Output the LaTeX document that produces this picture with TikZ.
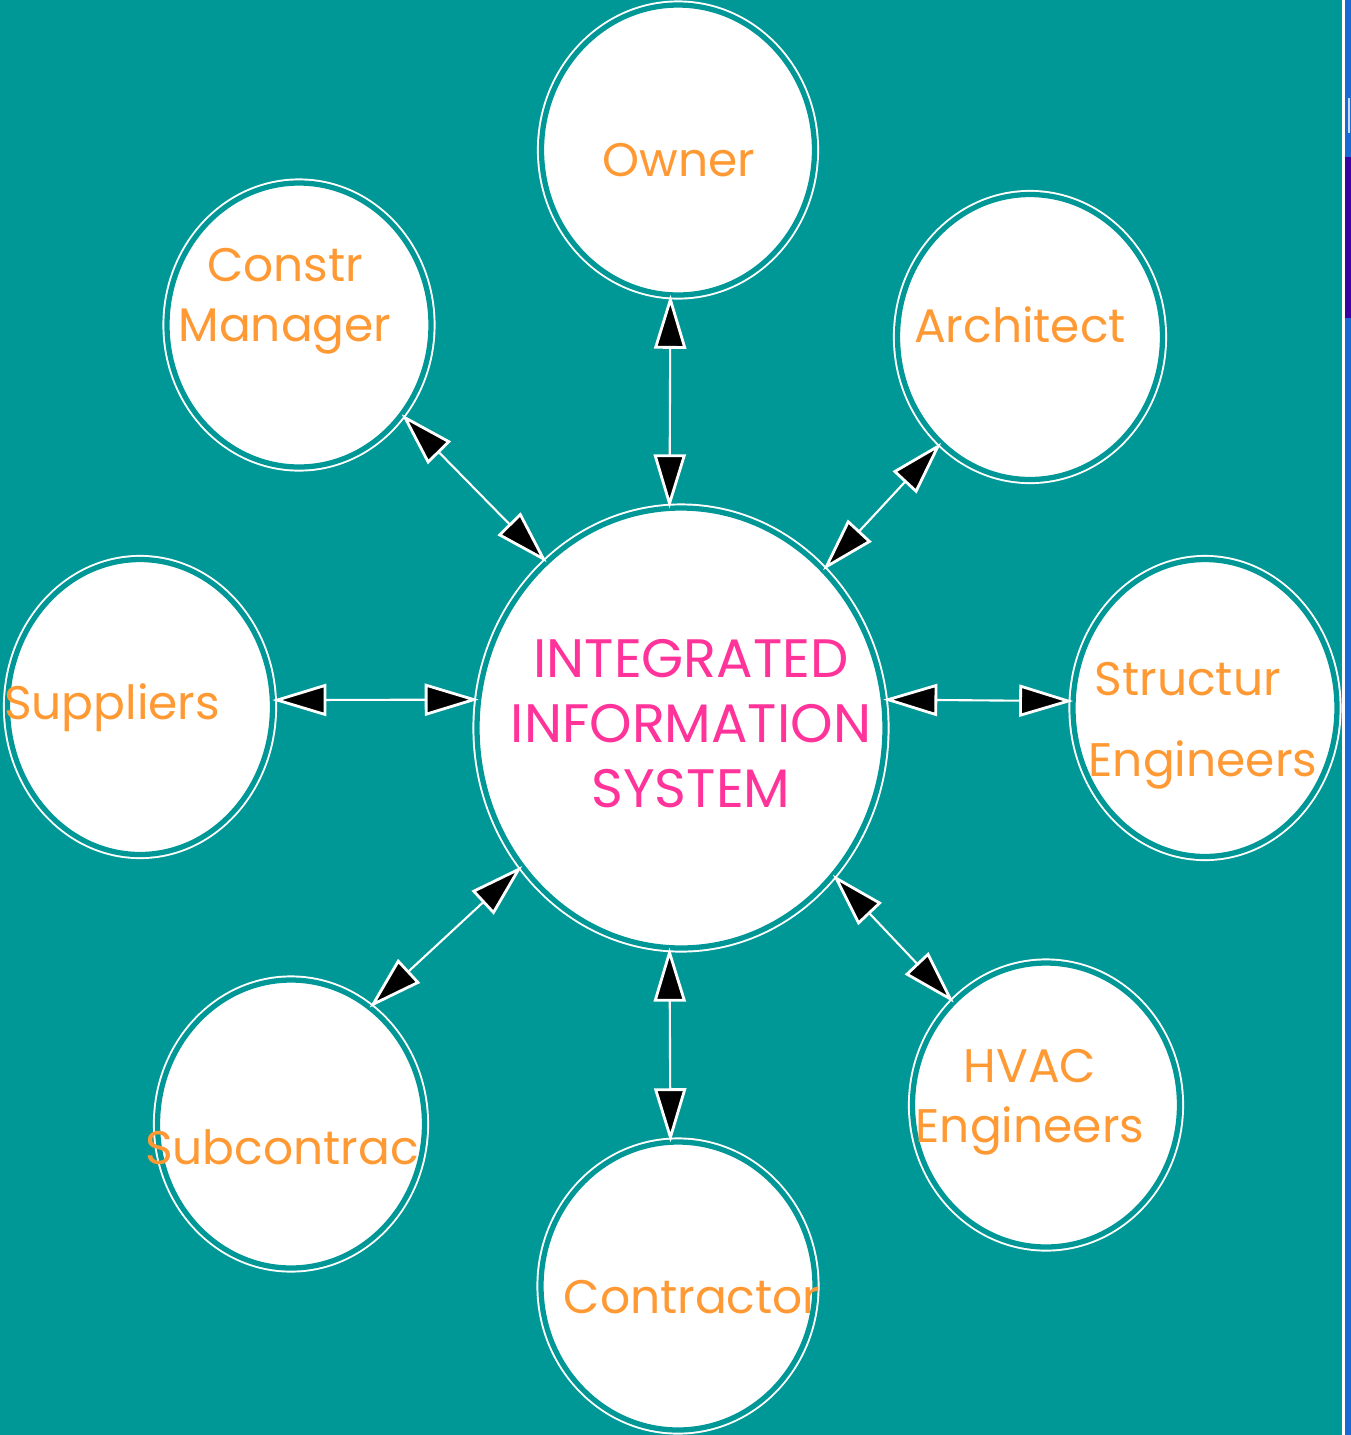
\documentclass[tikz,border=0pt]{standalone}
\usepackage{fontspec}
\setmainfont{Poppins}
\usetikzlibrary{shapes.geometric,arrows.meta}
\definecolor{bgteal}{RGB}{0,151,151}
\definecolor{partyorange}{RGB}{255,153,51}
\definecolor{hubpink}{RGB}{255,51,153}
\definecolor{edgeblue}{RGB}{26,106,214}
\definecolor{edgepurple}{RGB}{60,0,160}

\begin{document}
\begin{tikzpicture}
  [x=0.1mm,y=-0.1mm,
    bubble/.style={ellipse,fill=white,draw=white,double=bgteal,double distance=1.5pt,
      line width=0.55pt,inner sep=0pt,outer sep=0pt},
    partytext/.style={text=partyorange,font=\fontsize{13.4}{17}\selectfont,align=center},
    hubtext/.style={text=hubpink,font=\fontsize{15.4}{18.5}\selectfont,align=center},
    link/.style={draw=white,line width=0.6pt,<->},
    >={Triangle[length=5.4mm,width=3.2mm,fill=black,line width=0.8pt]},
  ]
  \useasboundingbox (0,0) rectangle (1351,1435);
  \fill[bgteal] (0,0) rectangle (1351,1435);
  \fill[white] (1342,0) rectangle (1345,1435);
  \fill[edgeblue] (1345,0) rectangle (1351,1435);
  \fill[edgepurple] (1345,157) rectangle (1351,318);
  \fill[white!75!edgeblue] (1348,98) rectangle (1350,133);

  \node[bubble,minimum width=40.8mm,minimum height=44mm,
    label={[hubtext,xshift=1mm,yshift=0.4mm]center:INTEGRATED\\INFORMATION\\SYSTEM}] (ctr) at (681,728) {};
  \node[bubble,minimum width=27.3mm,minimum height=29mm,
    label={[partytext,xshift=0.1mm,yshift=-1mm]center:Owner}] (owner) at (678,150) {};
  \node[bubble,minimum width=26.4mm,minimum height=28.4mm,
    label={[partytext,xshift=-1.4mm,yshift=2.4mm]center:Constr\\Manager}] (cm) at (299,325) {};
  \node[bubble,minimum width=26.5mm,minimum height=28.5mm,
    label={[partytext,xshift=-1mm,yshift=1.2mm]center:Architect}] (arch) at (1030,337) {};
  \node[bubble,minimum width=26.5mm,minimum height=29.5mm,
    label={[partytext,xshift=-2.8mm,yshift=-0.1mm]center:Suppliers}] (sup) at (140,707) {};
  \node[bubble,minimum width=26.4mm,minimum height=29.7mm,
    label={[partytext,align=left,xshift=-0.2mm,yshift=-1.8mm]center:\hspace{0.6mm}Structur\\[6pt]Engineers}] (str) at (1205,708) {};
  \node[bubble,minimum width=26.7mm,minimum height=28.8mm,
    label={[partytext,xshift=-0.9mm,yshift=-2.3mm]center:Subcontrac}] (sub) at (291,1124) {};
  \node[bubble,minimum width=27.4mm,minimum height=28.8mm,
    label={[partytext,xshift=1.4mm,yshift=-1.1mm]center:Contractor}] (con) at (678,1286) {};
  \node[bubble,minimum width=26.7mm,minimum height=28.4mm,
    label={[partytext,xshift=-1.6mm,yshift=0.3mm]center:HVAC\\Engineers}] (hvac) at (1046,1105) {};

  \draw[link] (owner.267) -- (ctr.93);
  \draw[link] (cm.-41) -- (ctr.129);
  \draw[link] (arch.230) -- (ctr.48);
  \draw[link] (sup.3) -- (ctr.172);
  \draw[link] (ctr.8) -- (str.177);
  \draw[link] (sub.56) -- (ctr.221);
  \draw[link] (ctr.267) -- (con.93);
  \draw[link] (hvac.132) -- (ctr.-44);
\end{tikzpicture}
\end{document}
